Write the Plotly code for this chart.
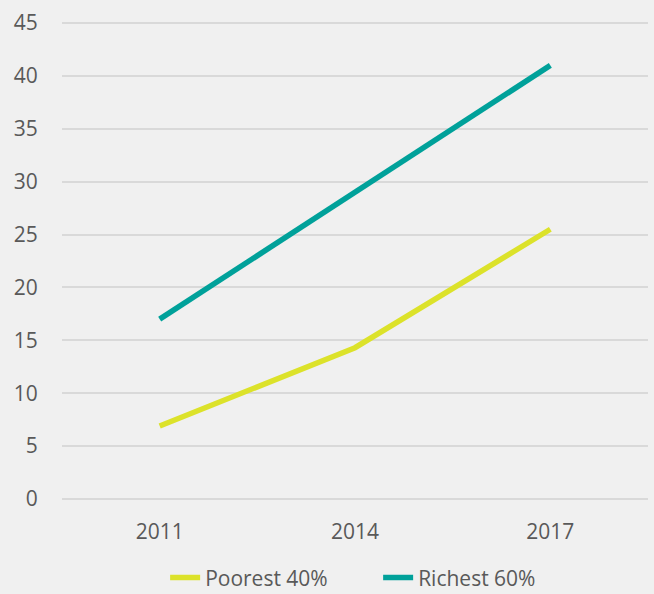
import plotly.graph_objects as go

years = ["2011", "2014", "2017"]
poorest = [6.9, 14.3, 25.5]
richest = [17.0, 29.0, 41.0]
y_ticks = [0, 5, 10, 15, 20, 25, 30, 35, 40, 45]

fig = go.Figure()
fig.add_trace(go.Scatter(x=years, y=poorest, mode="lines", name="Poorest 40%",
                         line=dict(color="#DCE22A", width=5.5)))
fig.add_trace(go.Scatter(x=years, y=richest, mode="lines", name="Richest 60%",
                         line=dict(color="#00A19A", width=5.5)))

fig.update_layout(
    width=654, height=594,
    margin=dict(l=62, r=6, t=22, b=94, autoexpand=False),
    paper_bgcolor="#F0F0F0", plot_bgcolor="#F0F0F0",
    font=dict(family="Open Sans", size=21, color="#595959"),
    showlegend=True,
    legend=dict(orientation="h", x=0.176, xanchor="left", y=-0.163, yanchor="middle",
                font=dict(size=21), tracegroupgap=0, entrywidth=168,
                bgcolor="rgba(0,0,0,0)"),
    xaxis=dict(type="category", range=[-0.5, 2.5], showgrid=False, zeroline=False,
               showline=False, ticks="outside", ticklen=13, tickcolor="rgba(0,0,0,0)"),
    yaxis=dict(range=[-0.1, 45.1], tickvals=y_ticks, showgrid=True, gridcolor="#D9D9D9",
               gridwidth=1.5, zeroline=False, showline=False, ticks="outside",
               ticklen=19, tickcolor="rgba(0,0,0,0)"),
)

fig.write_html("out.html", config={"displayModeBar": False},
               post_script="document.body.style.margin='0';document.body.style.background='#F0F0F0';")
